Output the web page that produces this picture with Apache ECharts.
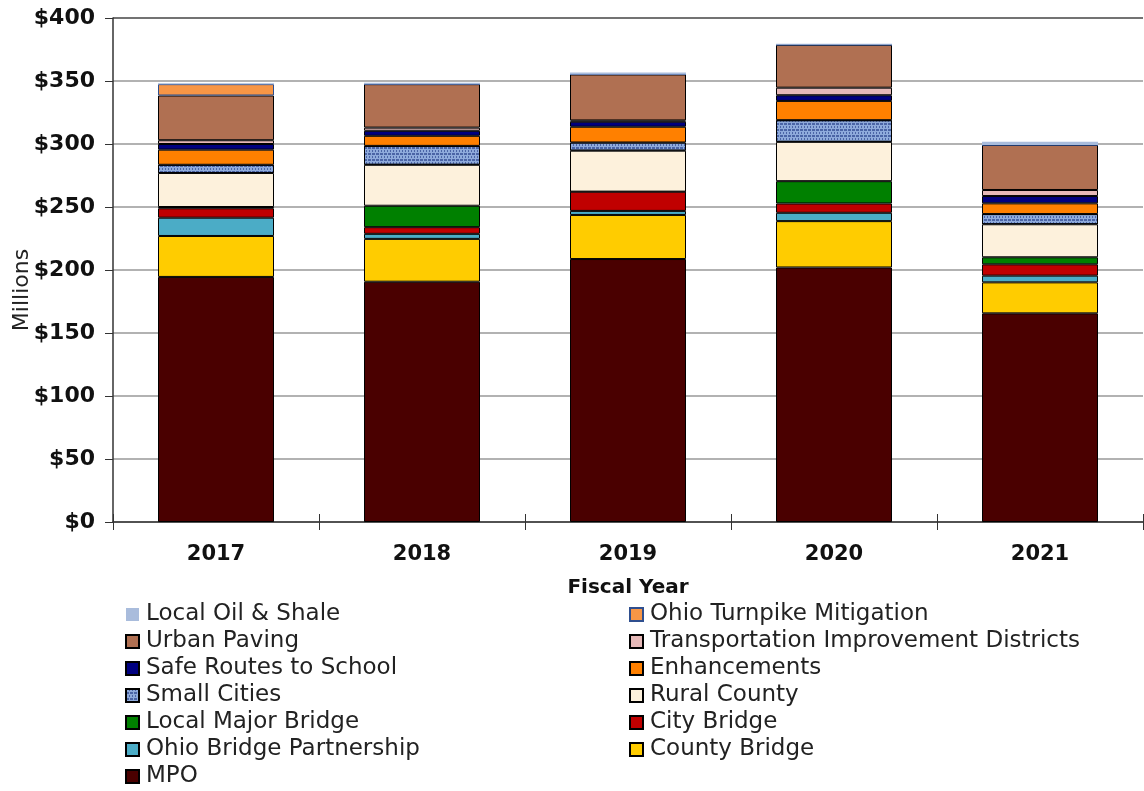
<!DOCTYPE html>
<html>
<head>
<meta charset="utf-8">
<script src="https://cdn.jsdelivr.net/npm/echarts@6/dist/echarts.min.js"></script>
<style>
  html, body { margin: 0; padding: 0; background: #fff; }
  #chart { width: 1144px; height: 791px; }
</style>
</head>
<body>
<div id="chart"></div>
<script>
// fiscal years
var years = ['2017', '2018', '2019', '2020', '2021'];
var yTicks = [0, 50, 100, 150, 200, 250, 300, 350, 400];

// millions of dollars, bottom of stack first
var mpo            = [194.5, 190.7, 208.7, 202.0, 165.6];
var countyBridge   = [32.5, 34.0, 35.0, 36.8, 24.6];
var ohioBridge     = [14.5, 4.0, 3.2, 6.6, 5.3];
var cityBridge     = [7.5, 5.3, 15.3, 7.4, 9.0];
var localMajor     = [1.0, 17.0, 0, 17.7, 5.6];
var ruralCounty    = [27.0, 32.5, 32.5, 31.2, 26.2];
var smallCities    = [6.5, 15.0, 6.5, 17.2, 8.1];
var enhancements   = [12.0, 8.0, 12.5, 15.3, 8.5];
var safeRoutes     = [4.5, 4.0, 4.0, 4.5, 5.8];
var tid            = [3.0, 2.5, 1.0, 6.0, 4.8];
var urbanPaving    = [35.5, 34.5, 36.5, 34.0, 35.7];
var ohioTurnpike   = [9.0, 0, 0, 0, 0];
var localOilShale  = [0.8, 1.2, 1.5, 0.8, 2.6];

var FONT = 'DejaVu Sans';

function bar(name, data, color, extra) {
    var s = {
        name: name,
        type: 'bar',
        stack: 'total',
        barWidth: 116,
        data: data,
        itemStyle: { color: color, borderColor: '#000', borderWidth: 1 }
    };
    if (extra) {
        for (var k in extra) s.itemStyle[k] = extra[k];
    }
    return s;
}

var series = [
    bar('MPO', mpo, '#4a0000'),
    bar('County Bridge', countyBridge, '#ffcc00'),
    bar('Ohio Bridge Partnership', ohioBridge, '#4bacc6'),
    bar('City Bridge', cityBridge, '#c00000'),
    bar('Local Major Bridge', localMajor, '#008000'),
    bar('Rural County', ruralCounty, '#fdf1dc'),
    bar('Small Cities', smallCities, '#8eaadb', {
        decal: {
            symbol: 'rect',
            symbolSize: 1,
            color: 'rgba(30,55,130,0.6)',
            dashArrayX: [[3, 1], [1, 2]],
            dashArrayY: [2, 1],
            rotation: 0
        }
    }),
    bar('Enhancements', enhancements, '#ff8000'),
    bar('Safe Routes to School', safeRoutes, '#000080'),
    bar('Transportation Improvement Districts', tid, '#e6b9b8'),
    bar('Urban Paving', urbanPaving, '#b07052'),
    bar('Ohio Turnpike Mitigation', ohioTurnpike, '#f79646', { borderColor: '#2f4f8f' }),
    bar('Local Oil & Shale', localOilShale, '#a9bcdc', { borderWidth: 0 })
];

var legendText = { fontFamily: FONT, fontSize: 23, color: '#222', lineHeight: 27, padding: [0, 0, 0, 2] };

var chart = echarts.init(document.getElementById('chart'), null, { renderer: 'canvas' });
chart.setOption({
    animation: false,
    backgroundColor: '#fff',
    grid: { left: 113, right: 1, top: 18, bottom: 269, containLabel: false },
    legend: [{
        orient: 'vertical',
        left: 125,
        top: 601,
        padding: 0,
        itemWidth: 13,
        itemHeight: 13,
        itemGap: 0,
        icon: 'rect',
        textStyle: legendText,
        data: ['Local Oil & Shale', 'Urban Paving', 'Safe Routes to School', 'Small Cities',
               'Local Major Bridge', 'Ohio Bridge Partnership', 'MPO']
    }, {
        orient: 'vertical',
        left: 629,
        top: 601,
        padding: 0,
        itemWidth: 13,
        itemHeight: 13,
        itemGap: 0,
        icon: 'rect',
        textStyle: legendText,
        data: ['Ohio Turnpike Mitigation', 'Transportation Improvement Districts', 'Enhancements',
               'Rural County', 'City Bridge', 'County Bridge']
    }],
    graphic: [{
        type: 'text',
        x: 22,
        y: 290,
        rotation: Math.PI / 2,
        style: {
            text: 'Millions',
            font: '22px "DejaVu Sans"',
            fill: '#222',
            align: 'center',
            verticalAlign: 'middle'
        }
    }],
    xAxis: [{
        type: 'category',
        data: years,
        position: 'bottom',
        axisLine: { lineStyle: { color: '#333', width: 1.5 } },
        axisTick: { show: true, length: 8, alignWithLabel: false, lineStyle: { color: '#333' } },
        axisLabel: { fontFamily: FONT, fontSize: 21, fontWeight: 'bold', color: '#111', margin: 22 },
        name: 'Fiscal Year',
        nameLocation: 'middle',
        nameGap: 56,
        nameTextStyle: { fontFamily: FONT, fontSize: 20, fontWeight: 'bold', color: '#111' }
    }, {
        type: 'category',
        data: years,
        position: 'bottom',
        axisLine: { show: false },
        axisTick: { show: true, inside: true, length: 8, lineStyle: { color: '#333' } },
        axisLabel: { show: false }
    }],
    yAxis: {
        type: 'value',
        min: yTicks[0],
        max: yTicks[yTicks.length - 1],
        interval: 50,
        axisLine: { show: true, lineStyle: { color: '#333', width: 1.5 } },
        axisTick: { show: true, length: 8, lineStyle: { color: '#333' } },
        axisLabel: {
            fontFamily: FONT, fontSize: 22, fontWeight: 'bold', color: '#111', margin: 18,
            formatter: function (v) { return '$' + v; }
        },
        splitLine: {
            show: true,
            lineStyle: { color: ['#999', '#999', '#999', '#999', '#999', '#999', '#999', '#999', '#444'], width: 1.5 }
        }
    },
    series: series
});
</script>
</body>
</html>
